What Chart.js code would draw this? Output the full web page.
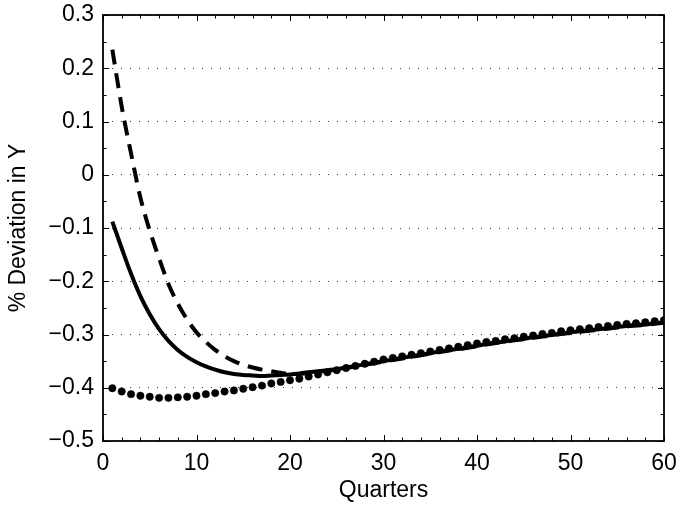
<!DOCTYPE html>
<html>
<head>
<meta charset="utf-8">
<script src="https://cdn.jsdelivr.net/npm/chart.js@4.4.1/dist/chart.umd.min.js"></script>
<style>
  html, body { margin: 0; padding: 0; background: #fff; }
  #wrap { width: 677px; height: 506px; }
</style>
</head>
<body>
<div id="wrap"><canvas id="irf" width="677" height="506"></canvas></div>
<script>
const quarters = [
  1, 2, 3, 4, 5, 6, 7, 8, 9, 10,
  11, 12, 13, 14, 15, 16, 17, 18, 19, 20,
  21, 22, 23, 24, 25, 26, 27, 28, 29, 30,
  31, 32, 33, 34, 35, 36, 37, 38, 39, 40,
  41, 42, 43, 44, 45, 46, 47, 48, 49, 50,
  51, 52, 53, 54, 55, 56, 57, 58, 59, 60
];

// dashed line
const dashedY = [
  0.235, 0.128, 0.040, -0.043, -0.105, -0.157, -0.205, -0.242, -0.272, -0.296,
  -0.314, -0.329, -0.341, -0.350, -0.357, -0.362, -0.366, -0.369, -0.372, -0.374,
  -0.374, -0.372, -0.370, -0.368, -0.366, -0.363, -0.360, -0.357, -0.354, -0.351,
  -0.348, -0.345, -0.342, -0.339, -0.336, -0.333, -0.330, -0.328, -0.325, -0.322,
  -0.319, -0.316, -0.314, -0.311, -0.309, -0.306, -0.304, -0.302, -0.299, -0.297,
  -0.295, -0.293, -0.291, -0.289, -0.287, -0.285, -0.283, -0.282, -0.280, -0.278
];

// solid line
const solidY = [
  -0.088, -0.138, -0.186, -0.228, -0.262, -0.290, -0.312, -0.329, -0.342, -0.352,
  -0.360, -0.366, -0.371, -0.374, -0.376, -0.377, -0.378, -0.377, -0.376, -0.375,
  -0.373, -0.371, -0.369, -0.367, -0.365, -0.362, -0.359, -0.356, -0.353, -0.350,
  -0.347, -0.344, -0.341, -0.338, -0.335, -0.332, -0.329, -0.327, -0.324, -0.321,
  -0.318, -0.315, -0.313, -0.310, -0.308, -0.305, -0.303, -0.301, -0.298, -0.296,
  -0.294, -0.292, -0.290, -0.288, -0.286, -0.284, -0.282, -0.281, -0.279, -0.277
];

// dotted (markers) series
const dotY = [
  -0.401, -0.407, -0.412, -0.415, -0.417, -0.419, -0.419, -0.418, -0.417, -0.415,
  -0.412, -0.410, -0.407, -0.405, -0.402, -0.399, -0.396, -0.392, -0.389, -0.386,
  -0.383, -0.379, -0.375, -0.371, -0.367, -0.363, -0.359, -0.355, -0.351, -0.347,
  -0.344, -0.341, -0.338, -0.335, -0.332, -0.329, -0.326, -0.323, -0.320, -0.317,
  -0.314, -0.312, -0.309, -0.307, -0.304, -0.302, -0.299, -0.297, -0.294, -0.292,
  -0.290, -0.288, -0.286, -0.284, -0.282, -0.280, -0.279, -0.277, -0.275, -0.273
];

const xTicks = [0, 10, 20, 30, 40, 50, 60];
const yTicks = [0.3, 0.2, 0.1, 0, -0.1, -0.2, -0.3, -0.4, -0.5];

const FONT = "'Liberation Sans', Arial, Helvetica, sans-serif";
const FSIZE = 23;

function toPoints(ys) {
  return quarters.map((q, i) => ({ x: q, y: ys[i] }));
}

function fmtTick(v) {
  if (Math.abs(v) < 1e-9) return "0";
  return (v < 0 ? "\u2212" : "") + Math.abs(v).toFixed(1);
}

// no extra room for overhanging labels, the layout padding decides the box
function noOverhang(s) {
  s.paddingTop = 0;
  s.paddingBottom = 0;
  s.paddingLeft = 0;
  s.paddingRight = 0;
}

// MATLAB style box with inward ticks on all four sides
const boxPlugin = {
  id: "box",
  afterDatasetsDraw(chart) {
    const { ctx, chartArea: a, scales } = chart;
    const xs = scales.x, ys = scales.y;
    ctx.save();
    ctx.strokeStyle = "#000";
    ctx.lineWidth = 1;
    ctx.beginPath();
    for (let v = 0; v <= 60; v += 2) {
      const px = Math.round(xs.getPixelForValue(v)) + 0.5;
      const len = v % 10 === 0 ? 6 : 3.5;
      ctx.moveTo(px, a.bottom); ctx.lineTo(px, a.bottom - len);
      ctx.moveTo(px, a.top); ctx.lineTo(px, a.top + len);
    }
    for (let k = -10; k <= 6; k++) {
      const py = Math.round(ys.getPixelForValue(k * 0.05)) + 0.5;
      const len = k % 2 === 0 ? 6 : 3.5;
      ctx.moveTo(a.left, py); ctx.lineTo(a.left + len, py);
      ctx.moveTo(a.right, py); ctx.lineTo(a.right - len, py);
    }
    ctx.stroke();
    ctx.lineWidth = 1.8;
    ctx.strokeRect(a.left, a.top, a.right - a.left, a.bottom - a.top);
    ctx.restore();
  }
};

const ctx = document.getElementById("irf").getContext("2d");
new Chart(ctx, {
  type: "line",
  data: {
    datasets: [
      {
        label: "dots",
        data: toPoints(dotY),
        showLine: false,
        pointRadius: 3.7,
        pointBackgroundColor: "#000",
        pointBorderColor: "#000",
        pointBorderWidth: 0.5
      },
      {
        label: "solid",
        data: toPoints(solidY),
        borderColor: "#000",
        borderWidth: 4,
        pointRadius: 0,
        cubicInterpolationMode: "monotone"
      },
      {
        label: "dashed",
        data: toPoints(dashedY),
        borderColor: "#000",
        borderWidth: 4,
        borderDash: [15, 9],
        borderCapStyle: "butt",
        pointRadius: 0,
        cubicInterpolationMode: "monotone"
      }
    ]
  },
  options: {
    responsive: false,
    animation: false,
    devicePixelRatio: 1,
    layout: { padding: { top: 15, right: 13, left: 0, bottom: 0 } },
    plugins: { legend: { display: false }, tooltip: { enabled: false } },
    scales: {
      x: {
        type: "linear",
        min: 0,
        max: 60,
        afterBuildTicks: (s) => { s.ticks = xTicks.map((v) => ({ value: v })); },
        afterFit: (s) => { s.height = 65; noOverhang(s); },
        grid: { display: false, drawTicks: false },
        border: { display: false },
        ticks: {
          padding: 9,
          color: "#000",
          maxRotation: 0,
          font: { family: FONT, size: FSIZE }
        },
        title: {
          display: true,
          text: "Quarters",
          color: "#000",
          padding: { top: 0, bottom: 2 },
          font: { family: FONT, size: FSIZE }
        }
      },
      y: {
        type: "linear",
        min: -0.5,
        max: 0.3,
        afterBuildTicks: (s) => { s.ticks = yTicks.map((v) => ({ value: v })); },
        afterFit: (s) => { s.width = 103; noOverhang(s); },
        grid: { color: "#333", lineWidth: 1, drawTicks: false },
        border: { display: false, dash: [1, 8] },
        ticks: {
          padding: 9,
          color: "#000",
          font: { family: FONT, size: FSIZE },
          callback: (v) => fmtTick(v)
        },
        title: {
          display: true,
          text: "% Deviation in Y",
          color: "#000",
          padding: { top: 5, bottom: 0 },
          font: { family: FONT, size: FSIZE }
        }
      }
    }
  },
  plugins: [boxPlugin]
});
</script>
</body>
</html>
